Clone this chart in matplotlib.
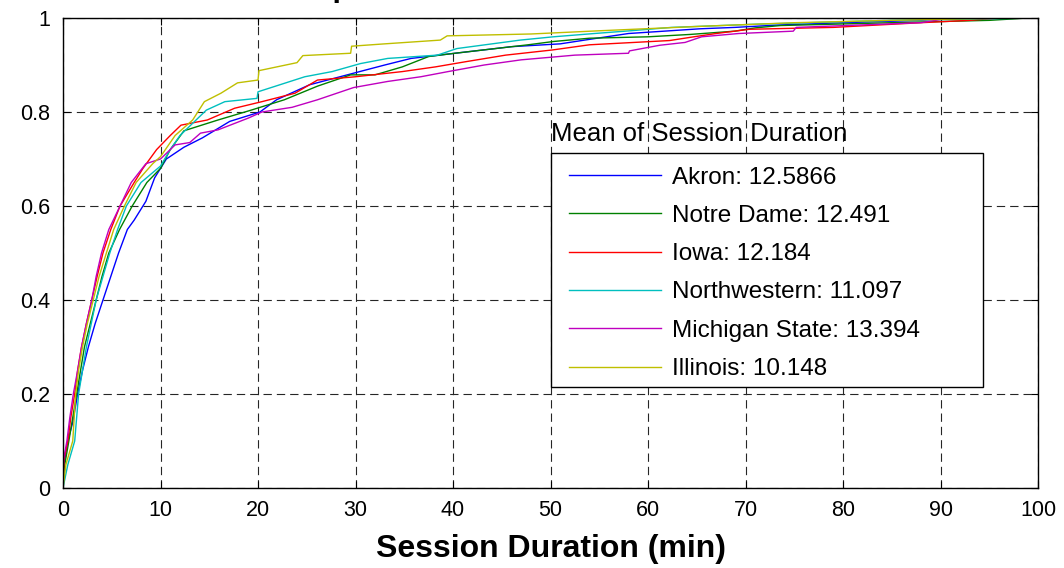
import matplotlib
matplotlib.use("Agg")
import matplotlib.pyplot as plt
from matplotlib.patches import Rectangle

plt.rcParams['font.family'] = ['Liberation Sans', 'DejaVu Sans']
plt.rcParams['lines.scale_dashes'] = False

# empirical CDF of session duration
akron_x = [0, 0.1, 0.5, 1.0, 1.5, 2.0, 2.6, 3.3, 4.1, 4.9, 5.7, 6.6, 7.3, 8.5, 9.4, 10.6, 12.4, 14.3, 17.1, 20.2,
           21.9, 25.3, 29.7, 33.0, 35.7, 40.2, 46.0, 51.0, 53.5, 58.0, 65.3, 68.9, 73.3, 80.0, 88.0, 91.0, 98.0]
akron_y = [0, 0.05, 0.10, 0.14, 0.20, 0.25, 0.30, 0.35, 0.40, 0.45, 0.50, 0.55, 0.57, 0.61, 0.66, 0.70, 0.725, 0.745, 0.78, 0.80,
           0.826, 0.858, 0.882, 0.90, 0.914, 0.925, 0.939, 0.945, 0.953, 0.967, 0.977, 0.98, 0.985, 0.99, 0.995, 1.0, 1.0]

notre_x = [0, 0.1, 0.6, 1.0, 1.4, 1.8, 2.2, 2.8, 3.4, 4.0, 4.7, 5.8, 7.1, 8.6, 10.0, 11.0, 12.4, 15.9, 19.3, 22.7,
           26.1, 29.5, 32.0, 34.8, 37.5, 40.2, 47.7, 50.3, 54.0, 60.0, 64.3, 68.9, 71.0, 73.6, 85.0, 95.0, 99.0]
notre_y = [0, 0.04, 0.10, 0.15, 0.20, 0.25, 0.30, 0.35, 0.40, 0.45, 0.50, 0.55, 0.60, 0.65, 0.68, 0.72, 0.76, 0.783, 0.804, 0.826,
           0.855, 0.879, 0.879, 0.896, 0.918, 0.925, 0.943, 0.95, 0.957, 0.96, 0.965, 0.972, 0.979, 0.984, 0.99, 0.995, 1.0]

iowa_x = [0, 0.1, 0.5, 0.8, 1.2, 1.5, 1.9, 2.4, 2.95, 3.5, 4.1, 4.9, 5.85, 7.3, 8.2, 9.6, 11.0, 12.1, 14.8, 17.6,
          20.4, 23.8, 26.1, 30.0, 34.8, 38.2, 41.3, 45.4, 50.2, 54.0, 62.2, 64.7, 67.0, 70.4, 79.0, 88.0, 93.0, 96.0]
iowa_y = [0, 0.06, 0.10, 0.15, 0.20, 0.25, 0.30, 0.35, 0.40, 0.45, 0.50, 0.55, 0.60, 0.65, 0.68, 0.72, 0.75, 0.772, 0.783, 0.808,
          0.822, 0.84, 0.868, 0.875, 0.886, 0.896, 0.907, 0.921, 0.932, 0.943, 0.952, 0.96, 0.967, 0.976, 0.98, 0.99, 0.995, 1.0]

nw_x = [0, 0.2, 0.5, 1.2, 1.6, 2.0, 2.4, 2.9, 3.4, 4.1, 4.8, 5.6, 6.5, 8.0, 10.0, 11.0, 12.0, 13.5, 14.7, 16.6,
        19.9, 20.0, 24.8, 27.6, 30.5, 33.3, 38.4, 40.4, 46.9, 50.3, 54.5, 58.3, 62.4, 71.3, 85.0, 99.7]
nw_y = [0, 0.02, 0.05, 0.10, 0.20, 0.25, 0.30, 0.35, 0.40, 0.45, 0.50, 0.55, 0.60, 0.65, 0.685, 0.72, 0.75, 0.78, 0.804, 0.822,
        0.829, 0.843, 0.875, 0.886, 0.903, 0.914, 0.921, 0.935, 0.953, 0.96, 0.967, 0.973, 0.98, 0.987, 0.995, 1.0]

msu_x = [0, 0.05, 0.4, 0.7, 1.06, 1.5, 1.9, 2.4, 2.95, 3.4, 3.95, 4.7, 5.85, 7.0, 8.5, 10.0, 11.5, 13.0, 14.1, 15.9,
         19.0, 20.4, 23.5, 26.1, 29.8, 33.3, 36.7, 39.5, 43.2, 47.0, 52.5, 58.0, 58.1, 61.2, 63.8, 65.5, 69.3, 74.9, 75.2, 88.0,
         91.0, 97.0]
msu_y = [0, 0.06, 0.10, 0.15, 0.20, 0.25, 0.30, 0.35, 0.40, 0.45, 0.50, 0.55, 0.60, 0.65, 0.69, 0.70, 0.73, 0.735, 0.755, 0.762,
         0.787, 0.80, 0.81, 0.826, 0.852, 0.865, 0.875, 0.886, 0.90, 0.911, 0.921, 0.925, 0.93, 0.942, 0.948, 0.96, 0.967, 0.972, 0.98, 0.99,
         1.0, 1.0]

ill_x = [0, 0.3, 1.0, 1.3, 1.6, 2.0, 2.5, 3.1, 3.7, 4.45, 5.2, 6.3, 7.5, 9.2, 10.0, 11.5, 13.3, 14.5, 16.2, 17.9,
         20.0, 20.1, 24.0, 24.6, 29.5, 29.6, 33.0, 38.7, 39.4, 48.0, 55.2, 65.1, 75.0, 85.0, 97.0]
ill_y = [0, 0.05, 0.10, 0.20, 0.25, 0.30, 0.35, 0.40, 0.45, 0.50, 0.55, 0.60, 0.65, 0.69, 0.705, 0.75, 0.783, 0.822, 0.84, 0.862,
         0.868, 0.888, 0.905, 0.92, 0.925, 0.94, 0.945, 0.953, 0.962, 0.966, 0.973, 0.982, 0.99, 0.995, 1.0]

labels = ["Akron: 12.5866", "Notre Dame: 12.491", "Iowa: 12.184",
          "Northwestern: 11.097", "Michigan State: 13.394", "Illinois: 10.148"]
colors = [(0, 0, 1), (0, 0.5, 0), (1, 0, 0), (0, 0.75, 0.75), (0.75, 0, 0.75), (0.75, 0.75, 0)]

xticks = [0, 10, 20, 30, 40, 50, 60, 70, 80, 90, 100]
yticks = [0, 0.2, 0.4, 0.6, 0.8, 1]
ytick_labels = ["0", "0.2", "0.4", "0.6", "0.8", "1"]

series = [(akron_x, akron_y), (notre_x, notre_y), (iowa_x, iowa_y),
          (nw_x, nw_y), (msu_x, msu_y), (ill_x, ill_y)]

fig = plt.figure(figsize=(10.64, 5.68), dpi=100)
ax = fig.add_axes([63 / 1064, 1 - 488 / 568, 975 / 1064, 470 / 568])

for (xs, ys), c, lab in zip(series, colors, labels):
    ax.plot(xs, ys, color=c, linewidth=1.0, label=lab)

ax.set_xlim(0, 100)
ax.set_ylim(0, 1)
ax.set_xticks(xticks)
ax.set_yticks(yticks)
ax.set_yticklabels(ytick_labels)
ax.tick_params(direction='in', top=True, right=True, length=5, width=0.8, labelsize=15.5, pad=9)
ax.grid(True, color='0.15', linestyle=(0, (6, 3.6)), linewidth=0.8)
for s in ax.spines.values():
    s.set_linewidth(1.0)

ax.set_xlabel("Session Duration (min)", fontsize=23, fontweight='bold', labelpad=9)
# the title is mostly cut off by the top edge in the original
ax.set_title("Empirical CDF of Session Duration", fontsize=22, fontweight='bold', pad=15.5,
             x=0.5 - 13 / 975)

# legend box with its title sitting above it, like the original
box = Rectangle((0.5005, 0.2149), 0.4431, 0.4979, transform=ax.transAxes,
                facecolor='white', edgecolor='black', linewidth=1.0, zorder=4)
ax.add_patch(box)
ax.text(0.5005, 0.7285, "Mean of Session Duration", transform=ax.transAxes,
        fontsize=18.5, ha='left', va='bottom', zorder=5)
leg = ax.legend(loc='upper left', bbox_to_anchor=(0.519, 0.684), frameon=False,
                fontsize=17.5, handlelength=3.8, handletextpad=0.45,
                labelspacing=0.67, borderpad=0, borderaxespad=0)
leg.set_zorder(6)

fig.savefig("out.png", dpi=100)
